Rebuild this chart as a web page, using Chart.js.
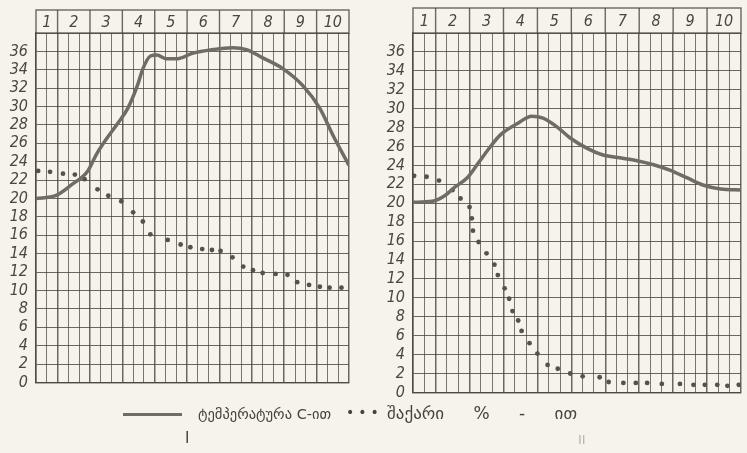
<!DOCTYPE html>
<html>
<head>
<meta charset="utf-8">
<script src="https://cdn.jsdelivr.net/npm/chart.js@4.4.1/dist/chart.umd.min.js"></script>
<style>
  body { margin: 0; width: 747px; height: 453px; overflow: hidden; position: relative;
         background: #f5f3eb; font-family: 'DejaVu Sans', 'Noto Sans', sans-serif; color: #47443e; }
  canvas { position: absolute; top: 0; }
  #left { left: 0; }
  #right { left: 370px; }
  .lg { position: absolute; white-space: pre; font-size: 14px; line-height: 20px; }
  #swatch { position: absolute; left: 123px; top: 413px; width: 59px; height: 3px; background: #6f6c66; }
</style>
</head>
<body>
<canvas id="left" width="360" height="400"></canvas>
<canvas id="right" width="377" height="410"></canvas>

<div id="swatch"></div>
<div class="lg" style="left:198px; top:404px; font-size:14.5px;">ტემპერატურა C-ით</div>
<div class="lg" style="left:346px; top:402px; letter-spacing:4px;">•••</div>
<div class="lg" style="left:387px; top:403px; font-size:17px; word-spacing:24px;">შაქარი % - ით</div>
<div class="lg" style="left:185px; top:428px; font-size:15px;">I</div>
<div class="lg" style="left:578px; top:430px; font-size:13px; color:#b9b5aa;">II</div>

<script>
// columns 1..10 and how many small grid cells each one spans
const dayLabels = ['1', '2', '3', '4', '5', '6', '7', '8', '9', '10'];
const daySpans = [2, 3, 3, 3, 3, 3, 3, 3, 3, 3];
const yTicks = [0, 2, 4, 6, 8, 10, 12, 14, 16, 18, 20, 22, 24, 26, 28, 30, 32, 34, 36];

// left panel
const tempLeftX = [0, 1.8, 3.3, 4.8, 5.6, 6.6, 7.6, 8.5, 9.4, 9.9, 10.6, 11.2, 12.1, 13.1, 14.5, 16.4, 18.2, 19.5, 21.0, 22.9, 24.7, 26.3, 27.5, 29];
const tempLeftY = [20.0, 20.3, 21.5, 23.0, 24.8, 26.6, 28.2, 29.8, 32.3, 34.1, 35.5, 35.6, 35.2, 35.2, 35.8, 36.2, 36.4, 36.2, 35.3, 34.1, 32.3, 29.8, 26.9, 23.6];
const sugarLeftX = [0.2, 1.3, 2.5, 3.6, 4.5, 5.7, 6.7, 7.9, 9.0, 9.9, 10.6, 12.2, 13.4, 14.3, 15.4, 16.3, 17.1, 18.2, 19.2, 20.1, 21.0, 22.2, 23.3, 24.2, 25.3, 26.3, 27.2, 28.3];
const sugarLeftY = [23.0, 22.9, 22.7, 22.6, 22.1, 21.0, 20.3, 19.7, 18.5, 17.5, 16.1, 15.5, 15.0, 14.7, 14.5, 14.4, 14.3, 13.6, 12.6, 12.2, 11.9, 11.8, 11.7, 10.9, 10.6, 10.4, 10.3, 10.3];

// right panel
const tempRightX = [0, 1.7, 2.8, 3.7, 4.8, 5.8, 6.6, 7.7, 9.2, 10.5, 11.5, 12.7, 13.9, 15.4, 16.8, 18.3, 19.8, 21.2, 22.7, 24.2, 25.7, 27.2, 29];
const tempRightY = [20.1, 20.2, 20.8, 21.7, 22.7, 24.3, 25.6, 27.2, 28.4, 29.2, 29.0, 28.1, 26.9, 25.8, 25.1, 24.8, 24.5, 24.1, 23.5, 22.7, 21.9, 21.5, 21.4];
const sugarRightX = [0.1, 1.2, 2.3, 3.5, 4.2, 5.0, 5.2, 5.3, 5.8, 6.5, 7.2, 7.5, 8.1, 8.5, 8.8, 9.3, 9.6, 10.3, 11.0, 11.9, 12.8, 13.9, 15.0, 16.5, 17.3, 18.6, 19.7, 20.7, 22.0, 23.6, 24.8, 25.8, 26.9, 27.8, 28.8];
const sugarRightY = [22.9, 22.8, 22.4, 21.4, 20.5, 19.6, 18.4, 17.1, 15.9, 14.7, 13.5, 12.4, 11.0, 9.9, 8.6, 7.6, 6.5, 5.2, 4.1, 2.9, 2.5, 2.0, 1.7, 1.6, 1.1, 1.0, 1.0, 1.0, 0.9, 0.9, 0.8, 0.8, 0.8, 0.7, 0.8];

const gridColor = 'rgba(72, 67, 58, 0.8)';
const inkColor = '#4a4740';
const lineColor = '#6f6c66';
const numFont = "'Liberation Sans Narrow', 'DejaVu Sans Condensed', 'DejaVu Sans', sans-serif";

const totalCells = daySpans.reduce((a, b) => a + b, 0);
const dayBounds = daySpans.reduce((acc, s) => { acc.push(acc[acc.length - 1] + s); return acc; }, [0]);

const toPoints = (xs, ys) => xs.map((x, i) => ({ x: x, y: ys[i] }));

// draws the boxed row of day numbers above the grid
const headerRow = {
  id: 'headerRow',
  afterDraw(chart, args, opts) {
    const { ctx, chartArea: a, scales: { x } } = chart;
    const top = opts.top;
    ctx.save();
    ctx.strokeStyle = gridColor;
    ctx.lineWidth = 1.4;
    ctx.strokeRect(a.left, top, a.right - a.left, a.top - top);
    ctx.font = 'italic 16px ' + numFont;
    ctx.fillStyle = inkColor;
    ctx.textAlign = 'center';
    ctx.textBaseline = 'middle';
    dayLabels.forEach((lbl, i) => {
      const x0 = x.getPixelForValue(dayBounds[i]);
      const x1 = x.getPixelForValue(dayBounds[i + 1]);
      if (i > 0) {
        ctx.beginPath();
        ctx.moveTo(x0, top);
        ctx.lineTo(x0, a.top);
        ctx.stroke();
      }
      ctx.fillText(lbl, (x0 + x1) / 2, (top + a.top) / 2 + 1);
    });
    ctx.restore();
  }
};

function makePanel(canvasId, tempPts, sugarPts, pad, yWidth, headerTop) {
  const ctx = document.getElementById(canvasId).getContext('2d');
  return new Chart(ctx, {
    type: 'line',
    data: {
      datasets: [
        {
          label: 'ტემპერატურა C-ით',
          data: tempPts,
          borderColor: lineColor,
          borderWidth: 3.5,
          cubicInterpolationMode: 'monotone',
          pointRadius: 0,
          fill: false
        },
        {
          label: 'შაქარი % - ით',
          data: sugarPts,
          showLine: false,
          pointRadius: 2.4,
          pointBackgroundColor: '#55524b',
          pointBorderWidth: 0
        }
      ]
    },
    options: {
      responsive: false,
      animation: false,
      layout: { padding: pad },
      plugins: {
        legend: { display: false },
        tooltip: { enabled: false },
        headerRow: { top: headerTop }
      },
      scales: {
        x: {
          type: 'linear',
          min: 0,
          max: totalCells,
          afterFit: s => { s.height = 0; },
          ticks: { display: false, stepSize: 1, autoSkip: false },
          grid: {
            color: gridColor,
            drawTicks: false,
            lineWidth: c => dayBounds.includes(c.tick.value) ? 1.5 : 0.9
          },
          border: { color: gridColor, width: 1.5 }
        },
        y: {
          min: 0,
          max: 38,
          afterFit: s => { s.width = yWidth; },
          afterBuildTicks: s => { s.ticks = yTicks.concat([38]).map(v => ({ value: v })); },
          ticks: {
            autoSkip: false,
            padding: 8,
            color: inkColor,
            font: { family: numFont, size: 16, style: 'italic' },
            callback: v => (v === 38 ? '' : v)
          },
          grid: { color: gridColor, drawTicks: false, lineWidth: 1 },
          border: { color: gridColor, width: 1.5 }
        }
      }
    },
    plugins: [headerRow]
  });
}

makePanel('left', toPoints(tempLeftX, tempLeftY), toPoints(sugarLeftX, sugarLeftY),
  { left: 0, right: 11, top: 33, bottom: 10 }, 36, 10);
makePanel('right', toPoints(tempRightX, tempRightY), toPoints(sugarRightX, sugarRightY),
  { left: 0, right: 6, top: 33, bottom: 12 }, 43, 8);
</script>
</body>
</html>
